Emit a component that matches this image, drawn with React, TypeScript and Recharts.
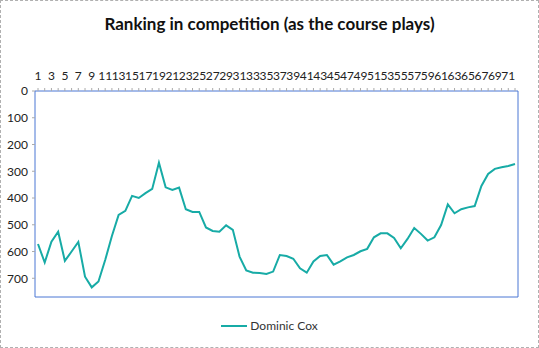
import { LineChart, Line, XAxis, YAxis, Legend } from "recharts";

const ROUNDS = Array.from({ length: 72 }, (_, i) => i + 1);
const RANKS = [
  572, 641, 563, 526, 635, 600, 564, 694, 734, 712,
  632, 542, 463, 448, 392, 400, 382, 366, 268, 360,
  370, 361, 442, 452, 452, 510, 523, 526, 502, 519,
  619, 671, 679, 680, 684, 675, 613, 617, 627, 663,
  679, 637, 617, 613, 649, 637, 622, 613, 599, 590,
  547, 532, 532, 549, 588, 553, 512, 534, 559, 547,
  501, 424, 457, 442, 435, 430, 355, 310, 291, 285,
  280, 273,
];
const Y_TICKS = [0, 100, 200, 300, 400, 500, 600, 700];
const SERIES = "Dominic Cox";

const data = ROUNDS.map((r, i) => ({ round: r, rank: RANKS[i] }));

const LINE = "#17aba6";
const BLUE = "#4a76d4";
const FONT = "Lato, 'Liberation Sans', sans-serif";
const AXIS = { fill: "#222", fontSize: 12, fontFamily: FONT };
const PAD = { left: 3, right: 3 };

const LegendBox = () => (
  <div style={{ display: "flex", justifyContent: "center", alignItems: "center", fontFamily: FONT, fontSize: 12, color: "#333" }}>
    <span style={{ display: "inline-block", width: 26, height: 2, background: LINE, marginRight: 3 }} />
    {SERIES}
  </div>
);

export default function App() {
  return (
    <div style={{ position: "fixed", left: 0, top: 0, width: 539, height: 348, background: "#fff", boxSizing: "border-box", border: "1px dashed #b0b0b0" }}>
      <div style={{ position: "absolute", top: 12, left: 0, width: 537, textAlign: "center", fontFamily: FONT, fontWeight: 700, fontSize: 17, color: "#111" }}>
        Ranking in competition (as the course plays)
      </div>
      <div style={{ position: "absolute", left: -1, top: -1 }}>
        <LineChart width={539} height={348} data={data} margin={{ top: 61, right: 20, bottom: 50, left: 0 }}>
          <XAxis dataKey="round" orientation="top" height={30} interval={0} tick={AXIS} padding={PAD}
            tickFormatter={(v: number) => (v % 2 === 1 ? String(v) : "")}
            tickSize={3} tickMargin={8} axisLine={{ stroke: BLUE }} tickLine={{ stroke: "#aaa" }} />
          <XAxis xAxisId="b" dataKey="round" orientation="bottom" height={1} tick={false} tickLine={false} padding={PAD} axisLine={{ stroke: BLUE }} />
          <YAxis reversed domain={[0, 770]} ticks={Y_TICKS} width={35} tick={AXIS} interval={0}
            tickSize={3} tickMargin={4} axisLine={{ stroke: BLUE }} tickLine={{ stroke: "#aaa" }} />
          <YAxis yAxisId="r" orientation="right" reversed domain={[0, 770]} width={1} tick={false} tickLine={false} axisLine={{ stroke: BLUE }} />
          <Legend layout="vertical" verticalAlign="middle" align="center" content={<LegendBox />}
            wrapperStyle={{ top: 318, left: 0, width: 539 }} />
          <Line xAxisId="b" yAxisId="r" dataKey="rank" stroke="none" dot={false} legendType="none" isAnimationActive={false} />
          <Line type="linear" dataKey="rank" name={SERIES} stroke={LINE} strokeWidth={2} dot={false} isAnimationActive={false} />
        </LineChart>
      </div>
    </div>
  );
}
